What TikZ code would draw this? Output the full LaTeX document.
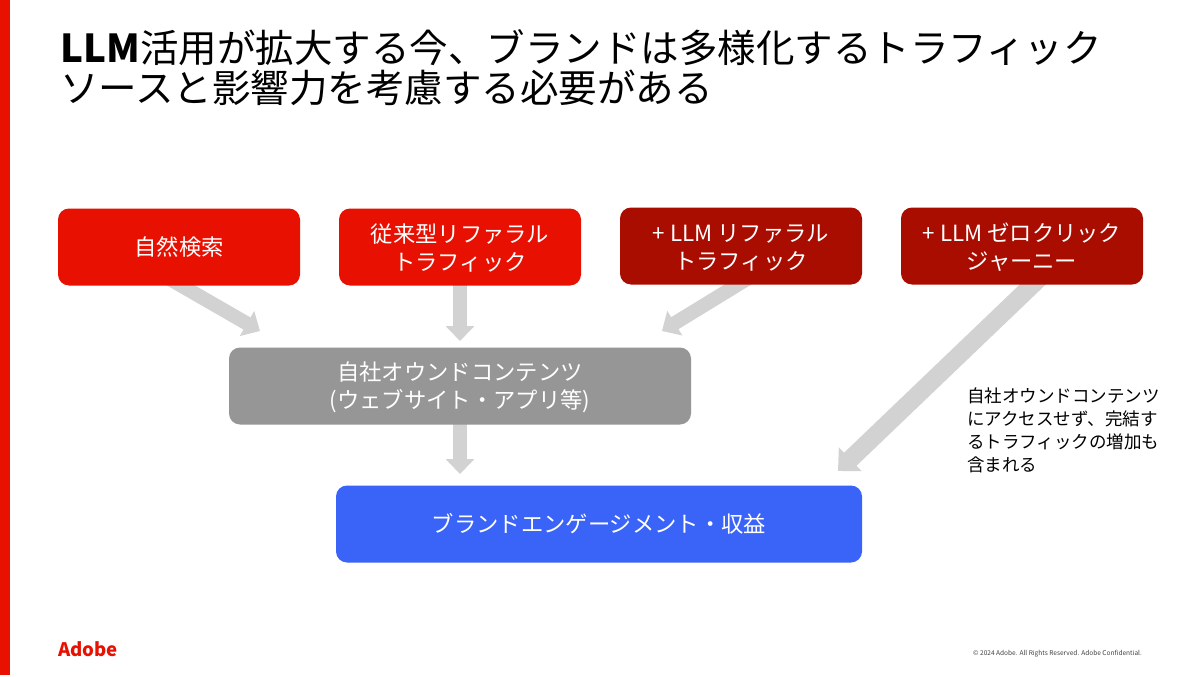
\documentclass[tikz,border=0pt]{standalone}
\usepackage{fontspec}
\setmainfont{Noto Sans CJK JP}
\usetikzlibrary{arrows.meta,calc,backgrounds}
\definecolor{adobered}{HTML}{E81000}
\definecolor{darkred}{HTML}{A90D00}
\definecolor{midgray}{HTML}{969696}
\definecolor{brandblue}{HTML}{3A63F8}
\definecolor{arrowgray}{HTML}{D2D2D2}
\tikzset{
  flowbox/.style={rounded corners=11pt,minimum height=77pt,inner sep=0pt},
  topbox/.style={flowbox,minimum width=242pt},
  boxtext/.style={text=white,align=center,inner sep=0pt,font=\fontsize{22.3}{28}\selectfont},
  twolines/.style={boxtext,yshift=-1.5pt},
  flow/.style={draw=arrowgray,line width=14pt,-{Triangle[width=28pt,length=15pt]}},
  wideflow/.style={draw=arrowgray,line width=18pt,-{Triangle[width=32pt,length=17pt]}},
}
\begin{document}
\begin{tikzpicture}[x=1pt,y=-1pt]
\useasboundingbox (0,0) rectangle (1200,677);
\node[anchor=west,inner sep=0pt,align=left,font=\fontsize{38.5}{40}\selectfont] (title) at (60,68)
  {\textbf{LLM}活用が拡大する今、ブランドは多様化するトラフィック\\ソースと影響力を考慮する必要がある};
\node[topbox,fill=adobered,label={[boxtext]center:{自然検索}}] (organic) at (179,247) {};
\node[topbox,fill=adobered,label={[twolines]center:{従来型リファラル\\トラフィック}}] (referral) at (460,247) {};
\node[topbox,fill=darkred,label={[twolines]center:{+ LLM リファラル\\トラフィック}}] (llmref) at (741,246) {};
\node[topbox,fill=darkred,label={[twolines]center:{+ LLM ゼロクリック\\ジャーニー}}] (llmzero) at (1022,246) {};
\node[flowbox,fill=midgray,minimum width=462pt,label={[twolines]center:{自社オウンドコンテンツ\\(ウェブサイト・アプリ等)}}] (owned) at (460,386) {};
\node[flowbox,fill=brandblue,minimum width=526pt,label={[boxtext]center:{ブランドエンゲージメント・収益}}] (brand) at (599,524) {};
\node[anchor=north west,inner sep=0pt,align=left,font=\fontsize{17.5}{23}\selectfont] (note) at (967,388)
  {自社オウンドコンテンツ\\にアクセスせず、完結す\\るトラフィックの増加も\\含まれる};
\coordinate (owned1) at (260,331);
\coordinate (owned2) at (460,341);
\coordinate (owned3) at (662,331);
\coordinate (brand1) at (460,474);
\coordinate (brand2) at (838,471);
\begin{scope}[on background layer]
\fill[white] (0,0) rectangle (1200,677);
\fill[adobered] (0,0) rectangle (10,675);
\draw[flow] ([xshift=-15pt,yshift=10pt]organic.south) -- (owned1);
\draw[flow] ([yshift=10pt]referral.south) -- (owned2);
\draw[flow] ([xshift=13pt,yshift=10pt]llmref.south) -- (owned3);
\draw[wideflow] ([xshift=21pt,yshift=10pt]llmzero.south) -- (brand2);
\draw[flow] ([yshift=10pt]owned.south) -- (brand1);
\end{scope}
\node[anchor=west,inner sep=0pt,text=adobered,font=\fontsize{18.6}{19}\selectfont\bfseries] (logo) at (58,649) {Adobe};
\node[anchor=west,inner sep=0pt,text=black!75,font=\fontsize{6.55}{7}\selectfont] (copy) at (973,654) {© 2024 Adobe. All Rights Reserved. Adobe Confidential.};
\end{tikzpicture}
\end{document}
